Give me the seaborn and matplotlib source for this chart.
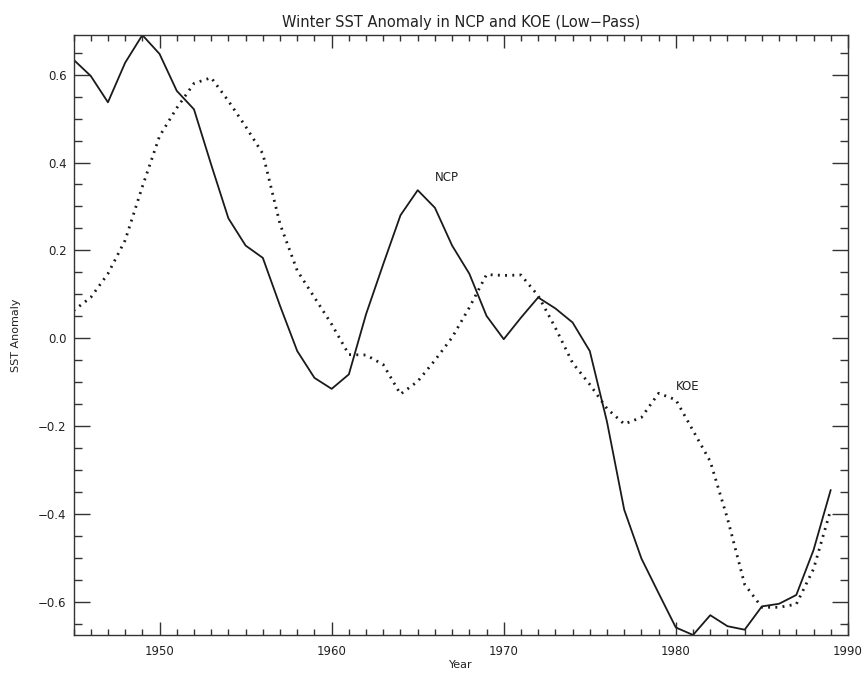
import numpy as np
import pandas as pd
import matplotlib
matplotlib.use("Agg")
import matplotlib.pyplot as plt
from matplotlib.ticker import MultipleLocator, FuncFormatter
import seaborn as sns

# -----------------------------------------------------------
# Data
# -----------------------------------------------------------
years = list(range(1945, 1990))

ncp = [0.634, 0.597, 0.537, 0.627, 0.690, 0.647, 0.563, 0.521, 0.395, 0.273,
       0.211, 0.183, 0.074, -0.029, -0.090, -0.115, -0.082, 0.055, 0.169, 0.280,
       0.337, 0.297, 0.211, 0.147, 0.051, -0.002, 0.047, 0.093, 0.068, 0.036,
       -0.029, -0.190, -0.390, -0.501, -0.580, -0.658, -0.675, -0.630, -0.655, -0.663,
       -0.610, -0.604, -0.584, -0.482, -0.345]

koe = [0.063, 0.093, 0.147, 0.223, 0.345, 0.460, 0.524, 0.580, 0.593, 0.540,
       0.482, 0.420, 0.260, 0.154, 0.093, 0.032, -0.037, -0.038, -0.060, -0.127,
       -0.098, -0.050, 0.002, 0.070, 0.145, 0.143, 0.144, 0.097, 0.024, -0.056,
       -0.105, -0.160, -0.195, -0.180, -0.125, -0.140, -0.210, -0.280, -0.410, -0.560,
       -0.612, -0.612, -0.605, -0.525, -0.390]

df = pd.DataFrame({"Year": years, "NCP": ncp, "KOE": koe})

# -----------------------------------------------------------
# Plot
# -----------------------------------------------------------
sns.set_style("ticks")
plt.rcParams['font.family'] = ['DejaVu Sans']

fig = plt.figure(figsize=(8.67, 6.74), dpi=100)
ax = fig.add_axes([0.0848, 0.0579, 0.8932, 0.8901])

sns.lineplot(data=df, x="Year", y="NCP", ax=ax, color="#1a1a1a", lw=1.3)
sns.lineplot(data=df, x="Year", y="KOE", ax=ax, color="#1a1a1a", lw=2.0,
             linestyle=(0, (0.7, 1.9)))

ax.set_xlim(1945, 1990)
ax.set_ylim(min(ncp), max(ncp))

ax.xaxis.set_major_locator(MultipleLocator(10))
ax.xaxis.set_minor_locator(MultipleLocator(1))
ax.yaxis.set_major_locator(MultipleLocator(0.2))
ax.yaxis.set_minor_locator(MultipleLocator(0.05))
ax.yaxis.set_major_formatter(
    FuncFormatter(lambda v, p: f"{v:.1f}".replace("-", "\u2212") if abs(v) > 1e-9 else "0.0"))

ax.tick_params(axis='both', which='both', direction='in', top=True, right=True,
               color="#333333", width=1.0, labelsize=8.5, labelcolor="#222222")
ax.tick_params(axis='x', which='major', length=9.5, pad=7)
ax.tick_params(axis='x', which='minor', length=4.5)
ax.tick_params(axis='y', which='major', length=11.5, pad=5)
ax.tick_params(axis='y', which='minor', length=5.5)

for s in ax.spines.values():
    s.set_color("#333333")
    s.set_linewidth(1.0)

ax.set_xlabel("Year", fontsize=8, color="#222222", labelpad=2)
ax.set_ylabel("SST Anomaly", fontsize=8, color="#222222", labelpad=12)
ax.set_title("Winter SST Anomaly in NCP and KOE (Low\u2212Pass)",
             fontsize=10.5, color="#222222", pad=6)

ax.text(1966.7, 0.365, "NCP", fontsize=8.5, color="#222222", ha='center', va='center')
ax.text(1980.0, -0.11, "KOE", fontsize=8.5, color="#222222", ha='left', va='center')

fig.savefig("out.png", dpi=100)
